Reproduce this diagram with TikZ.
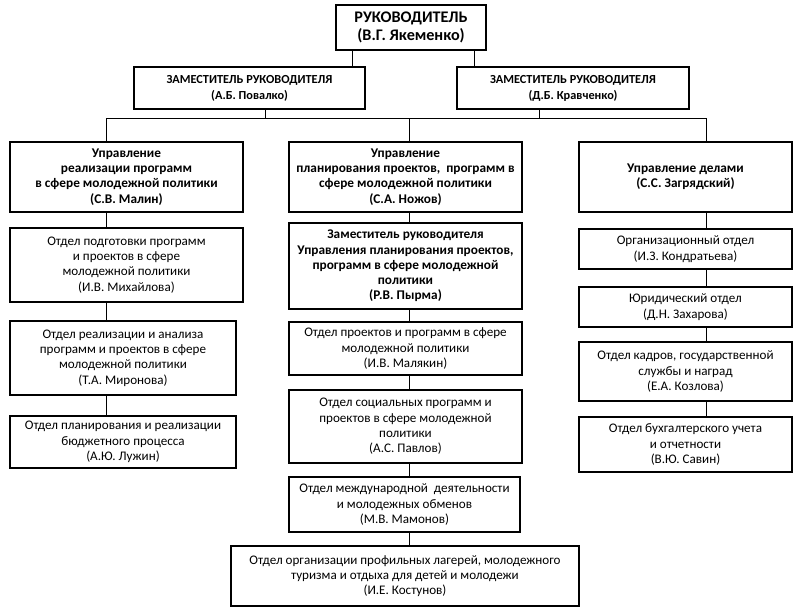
\documentclass[tikz,border=0pt]{standalone}
\usepackage{fontspec}
\setmainfont{Carlito}
\begin{document}
\begin{tikzpicture}[x=1pt,y=-1pt,
  box/.style={draw=black,line width=1.1pt,rectangle,inner sep=0pt,align=center,
    font=\fontsize{13.1}{15.3}\selectfont},
  bbox/.style={box,font=\fontsize{13.3}{15.3}\selectfont\bfseries},
  capbox/.style={box,font=\fontsize{12.3}{16}\selectfont\bfseries},
  topbox/.style={box,font=\fontsize{16.2}{18.5}\selectfont\bfseries},
  conn/.style={draw=black,line width=0.9pt}]
\useasboundingbox (0,0) rectangle (800,613);
\fill[white] (0,0) rectangle (800,613);
% helper: place box by corners
\newcommand{\bx}[7]{\node[#1,minimum width=#4-#2,minimum height=#5-#3] (#6) at ({(#2+#4)/2},{(#3+#5)/2}) {#7};}
\bx{topbox}{336}{5}{486}{50}{top}{РУКОВОДИТЕЛЬ\\(В.Г. Якеменко)}
\bx{capbox}{134}{67}{365}{109}{dl}{ЗАМЕСТИТЕЛЬ РУКОВОДИТЕЛЯ\\(А.Б. Повалко)}
\bx{capbox}{457}{67}{689}{109}{dr}{ЗАМЕСТИТЕЛЬ РУКОВОДИТЕЛЯ\\(Д.Б. Кравченко)}
% left column
\bx{bbox}{10}{142}{243}{212}{L1}{Управление\\реализации программ\\в сфере молодежной политики\\(С.В. Малин)}
\bx{box}{10}{228}{243}{302}{L2}{Отдел подготовки программ\\и проектов в сфере\\молодежной политики\\(И.В. Михайлова)}
\bx{box}{10}{321}{236}{395}{L3}{Отдел реализации и анализа\\программ и проектов в сфере\\молодежной политики\\(Т.А. Миронова)}
\bx{box}{10}{416}{236}{468}{L4}{Отдел планирования и реализации\\бюджетного процесса\\(А.Ю. Лужин)}
% middle column
\bx{bbox}{289}{142}{522}{212}{M1}{Управление\\планирования проектов,~ программ в\\сфере молодежной политики\\(С.А. Ножов)}
\bx{bbox}{289}{223}{522}{309}{M2}{Заместитель руководителя\\Управления планирования проектов,\\программ в сфере молодежной\\политики\\(Р.В. Пырма)}
\bx{box}{289}{322}{522}{375}{M3}{Отдел проектов и программ в сфере\\молодежной политики\\(И.В. Малякин)}
\bx{box}{289}{390}{522}{463}{M4}{Отдел социальных программ и\\проектов в сфере молодежной\\политики\\(А.С. Павлов)}
\bx{box}{289}{477}{520}{532}{M5}{Отдел международной~ деятельности\\и молодежных обменов\\(М.В. Мамонов)}
\bx{box}{231}{546}{579}{606}{M6}{Отдел организации профильных лагерей, молодежного\\туризма и отдыха для детей и молодежи\\(И.Е. Костунов)}
% right column
\bx{bbox}{579}{142}{792}{212}{R1}{Управление делами\\(С.С. Загрядский)}
\bx{box}{579}{229}{792}{269}{R2}{Организационный отдел\\(И.З. Кондратьева)}
\bx{box}{579}{287}{792}{327}{R3}{Юридический отдел\\(Д.Н. Захарова)}
\bx{box}{579}{342}{792}{401}{R4}{Отдел кадров, государственной\\службы и наград\\(Е.А. Козлова)}
\bx{box}{579}{417}{792}{472}{R5}{Отдел бухгалтерского учета\\и отчетности\\(В.Ю. Савин)}
% coordinates
\coordinate (t1) at (352,0);
\coordinate (t2) at (474,0);
\coordinate (d1) at (265,0);
\coordinate (d2) at (539,0);
\coordinate (busL) at (106,118);
\coordinate (busM) at (409,118);
\coordinate (busR) at (706,118);
% connectors
\draw[conn] (top.south -| t1) -- (dl.north -| t1);
\draw[conn] (top.south -| t2) -- (dr.north -| t2);
\draw[conn] (dl.south -| d1) -- (busL -| d1);
\draw[conn] (dr.south -| d2) -- (busL -| d2);
\draw[conn] (busL) -- (busR);
\draw[conn] (busL) -- (L1.north -| busL);
\draw[conn] (busM) -- (M1.north -| busM);
\draw[conn] (busR) -- (R1.north -| busR);
\draw[conn] (L1.south -| busL) -- (L2.north -| busL);
\draw[conn] (L2.south -| busL) -- (L3.north -| busL);
\draw[conn] (L3.south -| busL) -- (L4.north -| busL);
\draw[conn] (M1.south -| busM) -- (M2.north -| busM);
\draw[conn] (M2.south -| busM) -- (M3.north -| busM);
\draw[conn] (M3.south -| busM) -- (M4.north -| busM);
\draw[conn] (M4.south -| busM) -- (M5.north -| busM);
\draw[conn] (M5.south -| busM) -- (M6.north -| busM);
\draw[conn] (R1.south -| busR) -- (R2.north -| busR);
\draw[conn] (R2.south -| busR) -- (R3.north -| busR);
\draw[conn] (R3.south -| busR) -- (R4.north -| busR);
\draw[conn] (R4.south -| busR) -- (R5.north -| busR);
\end{tikzpicture}
\end{document}
